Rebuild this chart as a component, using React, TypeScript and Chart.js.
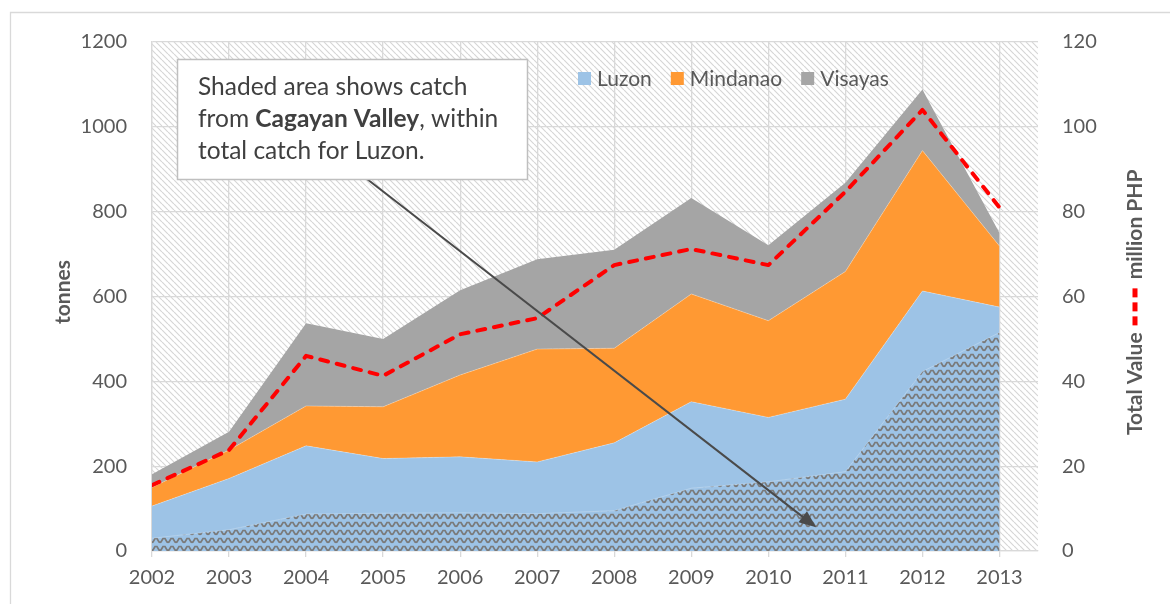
import React, { useEffect, useRef } from "react";
import { Chart, registerables } from "chart.js";

Chart.register(...registerables);

// ---------- data ----------
const years = [2002, 2003, 2004, 2005, 2006, 2007, 2008, 2009, 2010, 2011, 2012, 2013];
const luzon = [106, 171, 248, 218, 222, 210, 255, 352, 315, 358, 613, 575];
const mindanao = [44, 67, 94, 122, 193, 266, 223, 254, 228, 301, 331, 144];
const visayas = [31, 43, 195, 160, 200, 212, 232, 226, 178, 209, 144, 31];
const cagayanValley = [30, 50, 87, 89, 90, 88, 95, 148, 163, 187, 423, 515];
const totalValue = [15.5, 23.8, 46, 41.3, 51.1, 54.9, 67.4, 71.2, 67.4, 84.7, 104, 81];

const legendLabels = ["Luzon", "Mindanao", "Visayas"];
const leftAxisTitle = "tonnes";
const rightAxisTitleA = "Total Value";
const rightAxisTitleB = "million PHP";
const noteLine1 = "Shaded area shows catch";
const noteLine2a = "from ";
const noteLine2b = "Cagayan Valley";
const noteLine2c = ", within";
const noteLine3 = "total catch for Luzon.";
const arrowTarget = { year: 2010.62, tonnes: 56 };

// ---------- style ----------
const FONT = 'Lato, "Open Sans", sans-serif';
const BLUE = "#9DC3E6";
const ORANGE = "#FF9933";
const GRAY = "#A5A5A5";
const RED = "#FF0000";
const GRID = "#d9d9d9";
const TEXT = "#595959";

function makeHatch(ctx: CanvasRenderingContext2D) {
  const n = 6;
  const c = document.createElement("canvas");
  c.width = n;
  c.height = n;
  const g = c.getContext("2d")!;
  g.fillStyle = "#ffffff";
  g.fillRect(0, 0, n, n);
  g.strokeStyle = "#d6d6d6";
  g.lineWidth = 1.2;
  g.beginPath();
  for (const k of [-1, 0, 1]) {
    g.moveTo(k * n, 0);
    g.lineTo(k * n + n, n);
  }
  g.stroke();
  return ctx.createPattern(c, "repeat")!;
}

function makeWaves(ctx: CanvasRenderingContext2D) {
  const w = 8;
  const h = 8;
  const c = document.createElement("canvas");
  c.width = w;
  c.height = h;
  const g = c.getContext("2d")!;
  g.fillStyle = BLUE;
  g.fillRect(0, 0, w, h);
  g.strokeStyle = "#7a7a7a";
  g.lineWidth = 1.7;
  g.beginPath();
  g.moveTo(-1, 6.5);
  g.lineTo(1, 6);
  g.lineTo(3, 2.5);
  g.lineTo(5, 2.5);
  g.lineTo(7, 6);
  g.lineTo(9, 6.5);
  g.stroke();
  return ctx.createPattern(c, "repeat")!;
}

export default function App() {
  const ref = useRef<HTMLCanvasElement>(null);

  useEffect(() => {
    document.body.style.margin = "0";
    const canvas = ref.current!;
    const ctx2 = canvas.getContext("2d")!;
    const hatch = makeHatch(ctx2);
    const waves = makeWaves(ctx2);

    const pts = (vals: number[]) => vals.map((v, i) => ({ x: years[i], y: v }));

    const decor = {
      id: "decor",
      beforeDraw(chart: any) {
        const { ctx, chartArea: a } = chart;
        ctx.save();
        ctx.fillStyle = "#ffffff";
        ctx.fillRect(0, 0, chart.width, chart.height);
        ctx.strokeStyle = GRID;
        ctx.lineWidth = 1.3;
        ctx.beginPath();
        ctx.moveTo(10.5, chart.height);
        ctx.lineTo(10.5, 12.5);
        ctx.lineTo(chart.width, 12.5);
        ctx.stroke();
        ctx.fillStyle = hatch;
        ctx.fillRect(a.left, a.top, a.right - a.left, a.bottom - a.top);
        ctx.restore();
      },
      afterDraw(chart: any) {
        const { ctx } = chart;
        const xs = chart.scales.x;
        const ys = chart.scales.y;
        ctx.save();

        // legend
        ctx.font = `21px ${FONT}`;
        ctx.textBaseline = "middle";
        ctx.textAlign = "left";
        const cols = [BLUE, ORANGE, GRAY];
        let lx = 578;
        const ly = 79;
        legendLabels.forEach((lab, i) => {
          ctx.fillStyle = cols[i];
          ctx.fillRect(lx, ly - 7, 13, 13);
          ctx.fillStyle = TEXT;
          ctx.fillText(lab, lx + 19, ly);
          lx += 19 + ctx.measureText(lab).width + 19;
        });

        // left axis title
        ctx.save();
        ctx.translate(63, 292);
        ctx.rotate(-Math.PI / 2);
        ctx.font = `bold 21px ${FONT}`;
        ctx.fillStyle = TEXT;
        ctx.textAlign = "center";
        ctx.textBaseline = "middle";
        ctx.fillText(leftAxisTitle, 0, 0);
        ctx.restore();

        // right axis title
        ctx.save();
        ctx.translate(1135, 435);
        ctx.rotate(-Math.PI / 2);
        ctx.font = `bold 21px ${FONT}`;
        ctx.fillStyle = TEXT;
        ctx.textAlign = "left";
        ctx.textBaseline = "middle";
        let tx = 0;
        ctx.fillText(rightAxisTitleA, tx, 0);
        tx += ctx.measureText(rightAxisTitleA).width + 7;
        ctx.fillStyle = RED;
        for (let k = 0; k < 3; k++) {
          ctx.fillRect(tx, -2.5, 9, 5);
          tx += 14;
        }
        tx += 4;
        ctx.fillStyle = TEXT;
        ctx.fillText(rightAxisTitleB, tx, 0);
        ctx.restore();

        // arrow
        const sx = 367;
        const sy = 179;
        const ex = xs.getPixelForValue(arrowTarget.year);
        const ey = ys.getPixelForValue(arrowTarget.tonnes);
        const ang = Math.atan2(ey - sy, ex - sx);
        const hl = 17;
        const hw = 7;
        ctx.strokeStyle = "#4a4a4a";
        ctx.fillStyle = "#4a4a4a";
        ctx.lineWidth = 2;
        ctx.beginPath();
        ctx.moveTo(sx, sy);
        ctx.lineTo(ex - Math.cos(ang) * hl * 0.8, ey - Math.sin(ang) * hl * 0.8);
        ctx.stroke();
        ctx.beginPath();
        ctx.moveTo(ex, ey);
        ctx.lineTo(
          ex - Math.cos(ang) * hl + Math.sin(ang) * hw,
          ey - Math.sin(ang) * hl - Math.cos(ang) * hw
        );
        ctx.lineTo(
          ex - Math.cos(ang) * hl - Math.sin(ang) * hw,
          ey - Math.sin(ang) * hl + Math.cos(ang) * hw
        );
        ctx.closePath();
        ctx.fill();

        // note box
        const bx = 177.5;
        const by = 59.5;
        const bw = 350;
        const bh = 120;
        ctx.fillStyle = "#ffffff";
        ctx.fillRect(bx, by, bw, bh);
        ctx.strokeStyle = "#bfbfbf";
        ctx.lineWidth = 1.5;
        ctx.strokeRect(bx, by, bw, bh);
        ctx.fillStyle = "#404040";
        ctx.textBaseline = "alphabetic";
        ctx.textAlign = "left";
        const nx = 198;
        const fs = 24.5;
        ctx.font = `${fs}px ${FONT}`;
        ctx.fillText(noteLine1, nx, 95);
        let px = nx;
        ctx.fillText(noteLine2a, px, 127);
        px += ctx.measureText(noteLine2a).width;
        ctx.font = `bold ${fs}px ${FONT}`;
        ctx.fillText(noteLine2b, px, 127);
        px += ctx.measureText(noteLine2b).width;
        ctx.font = `${fs}px ${FONT}`;
        ctx.fillText(noteLine2c, px, 127);
        ctx.fillText(noteLine3, nx, 159);

        ctx.restore();
      },
    };

    const tickFont = { family: FONT, size: 20 };
    const plain = (v: any) => String(v);

    const chart = new Chart(canvas, {
      type: "line",
      data: {
        datasets: [
          {
            label: legendLabels[0],
            data: pts(luzon),
            backgroundColor: BLUE,
            borderColor: "rgba(255,255,255,0.35)",
            borderWidth: 0.8,
            pointRadius: 0,
            fill: "origin",
            stack: "regions",
            yAxisID: "y",
            order: 2,
          },
          {
            label: legendLabels[1],
            data: pts(mindanao),
            backgroundColor: ORANGE,
            borderColor: "rgba(255,255,255,0.35)",
            borderWidth: 0.8,
            pointRadius: 0,
            fill: "-1",
            stack: "regions",
            yAxisID: "y",
            order: 2,
          },
          {
            label: legendLabels[2],
            data: pts(visayas),
            backgroundColor: GRAY,
            borderColor: "rgba(0,0,0,0)",
            borderWidth: 0,
            pointRadius: 0,
            fill: "-1",
            stack: "regions",
            yAxisID: "y",
            order: 2,
          },
          {
            label: "Cagayan Valley",
            data: pts(cagayanValley),
            backgroundColor: waves,
            borderColor: "rgba(255,255,255,0.3)",
            borderWidth: 0.8,
            pointRadius: 0,
            fill: "origin",
            stack: "cagayan",
            yAxisID: "y",
            order: 1,
          },
          {
            label: "Total Value",
            data: pts(totalValue),
            borderColor: RED,
            borderWidth: 4,
            borderDash: [8, 9],
            borderCapStyle: "round",
            borderJoinStyle: "round",
            pointRadius: 0,
            fill: false,
            yAxisID: "y1",
            order: 0,
          },
        ],
      } as any,
      options: {
        animation: false,
        responsive: false,
        maintainAspectRatio: false,
        events: [],
        layout: { padding: { top: 42, left: 0, right: 0, bottom: 0 } },
        plugins: {
          legend: { display: false },
          tooltip: { enabled: false },
        },
        elements: { line: { tension: 0 } },
        scales: {
          x: {
            type: "linear",
            min: 2002,
            max: 2013.5,
            grid: { color: GRID, lineWidth: 1.3, drawTicks: true, tickLength: 6 },
            border: { display: true, color: GRID, width: 1.3 },
            ticks: {
              stepSize: 1,
              includeBounds: false,
              autoSkip: false,
              maxRotation: 0,
              color: TEXT,
              font: tickFont,
              padding: 9,
              callback: plain,
            },
            afterFit: (s: any) => {
              s.height = 53;
            },
          },
          y: {
            type: "linear",
            position: "left",
            stacked: true,
            min: 0,
            max: 1200,
            grid: { color: GRID, lineWidth: 1.3, drawTicks: false },
            border: { display: true, color: GRID, width: 1.3 },
            ticks: { stepSize: 200, color: TEXT, font: tickFont, padding: 25, callback: plain },
            afterFit: (s: any) => {
              s.width = 152;
            },
          },
          y1: {
            type: "linear",
            position: "right",
            min: 0,
            max: 120,
            grid: { display: false, drawTicks: false },
            border: { display: false },
            ticks: { stepSize: 20, color: TEXT, font: tickFont, padding: 24, callback: plain },
            afterFit: (s: any) => {
              s.width = 132;
            },
          },
        },
      } as any,
      plugins: [decor],
    });

    return () => chart.destroy();
  }, []);

  return (
    <canvas
      ref={ref}
      width={1170}
      height={604}
      style={{ display: "block", width: 1170, height: 604 }}
    />
  );
}
